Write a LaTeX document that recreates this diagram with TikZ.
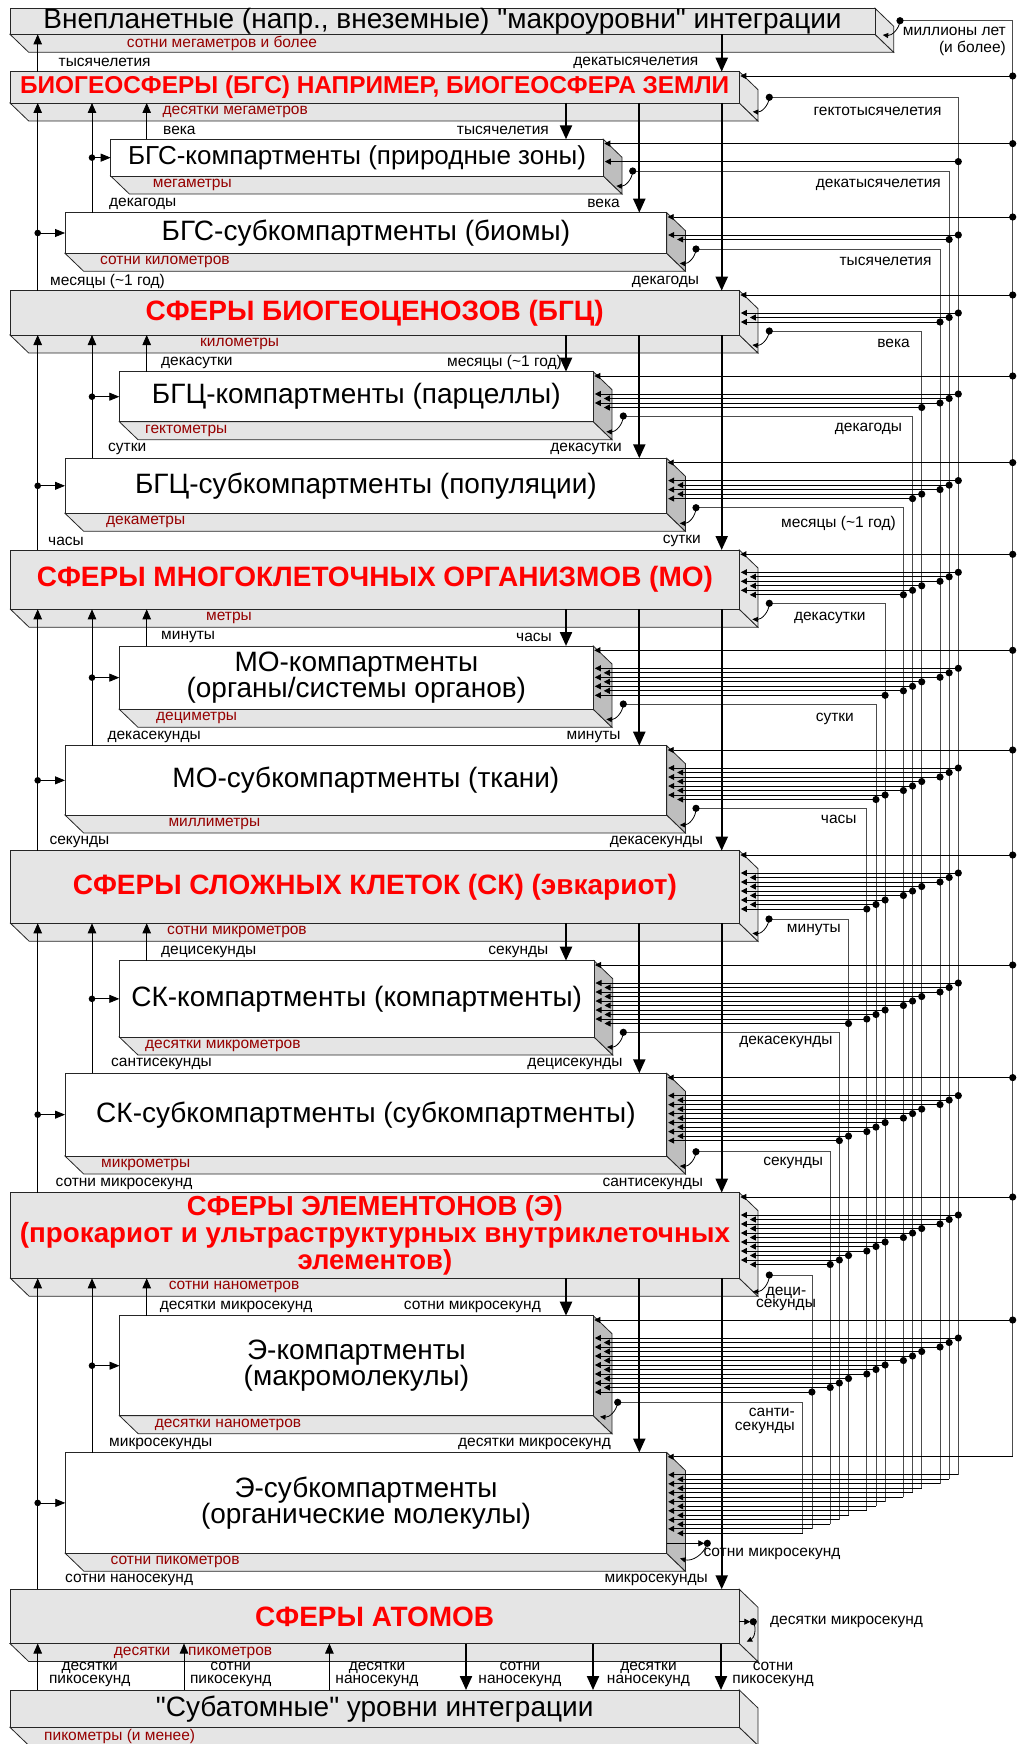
\documentclass[tikz,border=0pt]{standalone}
\usepackage{fontspec}
\setmainfont{Liberation Sans}
\newfontfamily\qfont{Liberation Sans}[Ligatures=TeXOff]
\newcommand{\sq}{{\qfont"}}
\usepackage{graphicx}
\usetikzlibrary{arrows.meta,calc}
\definecolor{boxgray}{RGB}{229,229,229}
\definecolor{sidegray}{RGB}{190,190,190}
\definecolor{dred}{RGB}{150,0,0}
\definecolor{lred}{RGB}{255,0,0}
\tikzset{
  edge/.style={draw=black!85,line width=0.8pt},
  lbl/.style={font=\fontsize{15.5}{13}\selectfont,inner sep=0pt},
  rlbl/.style={lbl,text=dred},
  big/.style={font=\fontsize{28}{26.5}\selectfont},
  redbold/.style={font=\fontsize{28}{26}\selectfont\bfseries,text=lred},
  redthree/.style={font=\fontsize{27.5}{23.5}\selectfont\bfseries,text=lred},
  bus/.style={draw=black!70,line width=0.8pt},
  inp/.style={draw=black,line width=0.8pt,-{Triangle[length=6pt,width=6pt]}},
  loopar/.style={draw=black,line width=0.8pt,-{Triangle[length=5.5pt,width=5pt]}},
  upar/.style={draw=black,line width=0.8pt,-{Triangle[length=10pt,width=8.5pt]}},
  hinar/.style={draw=black,line width=0.8pt,-{Triangle[length=10pt,width=8pt]}},
  downar/.style={draw=black,line width=2.2pt,-{Triangle[length=14pt,width=12pt]}},
}
% #1 name, #2 L, #3 T, #4 R, #5 B, #6 front fill, #7 side fill, #8 text style, #9 text
\newcommand{\slab}[9]{%
  \filldraw[edge,fill=boxgray] (#2,#5) -- (#2+18.7,#5+18) -- (#4+18.7,#5+18) -- (#4,#5) -- cycle;
  \filldraw[edge,fill=#7] (#4,#3) -- (#4+18.7,#3+18) -- (#4+18.7,#5+18) -- (#4,#5) -- cycle;
  \node[edge,fill=#6,inner sep=0pt,outer sep=0pt,anchor=north west,
        minimum width={(#4-#2)*1pt},minimum height={(#5-#3)*1pt},align=center,#8] (#1) at (#2,#3) {#9};
}
\def\Tarr{{8.3,71.7,139.3,212.7,290.7,371.7,458.3,550,646,745.7,850.7,960.7,1073.3,1192.7,1315.7,1452.5,1589.3,1690}}
\def\Rarr{{875,739.3,603.3,666.7,739.3,593.3,666.7,739.3,593.3,666.7,739.3,594,666.7,739.3,593.3,666.7,739.3,739.3}}
\def\Xarr{{1012.7,958.3,949.15,940,921.7,912.55,903.4,885.1,875.95,866.8,848.5,839.35,830.2,811.9,802.75}}
\def\DXarr{{900,769.3,632.7,696,769.3,623.3,696,769.3,623.3,696,769,623.3,696,769.3,617.7}}
\def\DYarr{{20.7,97.3,171,249,331,416,507.7,603.3,704,808.3,919,1032.3,1151.7,1275,1402.3}}
\def\TXarr{{882.7,752.7,616.3,679.7,752.3,606.3,679.7,752.3,606.3,679.7,752.3,607,679.7,752.7,600}}
\def\TYarr{{35,111.7,186,263.3,345,431.7,523.3,619.3,719.3,825,933.3,1047,1166,1291.7,1416.7}}
\begin{document}
\begin{tikzpicture}[x=1pt,y=-1pt]
\useasboundingbox (0,0) rectangle (1019,1744);
% ---------- boxes ----------
\slab{b0}{10}{8.3}{875}{34.3}{boxgray}{boxgray}{big}{Внепланетные (напр., внеземные) \sq макроуровни\sq\ интеграции}
\slab{b1}{10}{71.7}{739.3}{103}{boxgray}{boxgray}{redbold}{\resizebox{709pt}{!}{БИОГЕОСФЕРЫ (БГС) НАПРИМЕР, БИОГЕОСФЕРА ЗЕМЛИ}}
\slab{b2}{110.7}{139.3}{603.3}{176}{white}{sidegray}{big}{\resizebox{458pt}{!}{БГС-компартменты (природные зоны)}}
\slab{b3}{65}{212.7}{666.7}{253.3}{white}{sidegray}{big}{БГС-субкомпартменты (биомы)}
\slab{b4}{10}{290.7}{739.3}{335}{boxgray}{boxgray}{redbold}{СФЕРЫ БИОГЕОЦЕНОЗОВ (БГЦ)}
\slab{b5}{119.3}{371.7}{593.3}{421.7}{white}{sidegray}{big}{БГЦ-компартменты (парцеллы)}
\slab{b6}{65}{458.3}{666.7}{513.3}{white}{sidegray}{big}{БГЦ-субкомпартменты (популяции)}
\slab{b7}{10.5}{550}{739.3}{609.3}{boxgray}{boxgray}{redbold}{СФЕРЫ МНОГОКЛЕТОЧНЫХ ОРГАНИЗМОВ (МО)}
\slab{b8}{119.3}{646}{593.3}{709.3}{white}{sidegray}{big}{МО-компартменты\\(органы/системы органов)}
\slab{b9}{65}{745.7}{666.7}{815}{white}{sidegray}{big}{МО-субкомпартменты (ткани)}
\slab{b10}{10.5}{850.7}{739.3}{923.3}{boxgray}{boxgray}{redbold}{СФЕРЫ СЛОЖНЫХ КЛЕТОК (СК) (эвкариот)}
\slab{b11}{119.3}{960.7}{594}{1037}{white}{sidegray}{big}{СК-компартменты (компартменты)}
\slab{b12}{65}{1073.3}{666.7}{1156}{white}{sidegray}{big}{СК-субкомпартменты (субкомпартменты)}
\slab{b13}{10.5}{1192.7}{739.3}{1278.3}{boxgray}{boxgray}{redthree}{СФЕРЫ ЭЛЕМЕНТОНОВ (Э)\\\resizebox{710pt}{!}{(прокариот и ультраструктурных внутриклеточных}\\элементов)}
\slab{b14}{119.5}{1315.7}{593.3}{1415.7}{white}{sidegray}{big}{Э-компартменты\\(макромолекулы)}
\slab{b15}{65.3}{1452.5}{666.7}{1553.3}{white}{sidegray}{big}{Э-субкомпартменты\\(органические молекулы)}
\slab{b16}{10}{1589.3}{739.3}{1643.5}{boxgray}{boxgray}{redbold}{СФЕРЫ АТОМОВ}
\slab{b17}{10}{1690}{739.3}{1727.3}{boxgray}{boxgray}{big}{\sq Субатомные\sq\ уровни интеграции}
% ---------- base labels ----------
\foreach \px/\py/\txt [count=\i] in {126.7/43.3/{сотни мегаметров и более},162.4/112/{десятки мегаметров},152.7/185/{мегаметры},100/262.3/{сотни километров},200/344/{километры},145/430.7/{гектометры},106/522.3/{декаметры},206/618.3/{метры},156/718.3/{дециметры},168.3/824/{миллиметры},167/932.3/{сотни микрометров},145/1046/{десятки микрометров},101/1165/{микрометры},168.6/1287.3/{сотни нанометров},154.6/1424.7/{десятки нанометров},110.5/1562.3/{сотни пикометров},113.7/1652.5/{десятки},188/1652.5/{пикометров},44/1736.3/{пикометры (и менее)}}
  {\node[rlbl,anchor=west] (bl\i) at (\px,\py) {\txt};}
% ---------- time labels over boxes ----------
\foreach \px/\py/\txt [count=\i] in {58.5/62.7/{тысячелетия},163/130.3/{века},109/203.7/{декагоды},50/281.7/{месяцы (\textasciitilde 1 год)},161/362.7/{декасутки},108/449.3/{сутки},48/541/{часы},161/637/{минуты},107.3/736.7/{декасекунды},49.3/841.7/{секунды},161/951.7/{децисекунды},111/1064.3/{сантисекунды},55.4/1183.7/{сотни микросекунд},159.6/1306.7/{десятки микросекунд},109/1443.5/{микросекунды},65/1580.3/{сотни наносекунд}}
  {\node[lbl,anchor=west] (tl\i) at (\px,\py) {\txt};}
\foreach \px/\py/\txt [count=\i] in {698.5/62.7/{декатысячелетия},549/130.3/{тысячелетия},620/203.7/{века},699.3/281.7/{декагоды},562/362.7/{месяцы (\textasciitilde 1 год)},622/449.3/{декасутки},701/541/{сутки},552/637/{часы},620.7/736.7/{минуты},703.3/841.7/{декасекунды},548.5/951.7/{секунды},622.7/1064.3/{децисекунды},703.3/1183.7/{сантисекунды},541/1306.7/{сотни микросекунд},611/1443.5/{десятки микросекунд},708/1580.3/{микросекунды}}
  {\node[lbl,anchor=east] (tr\i) at (\px,\py) {\txt};}
% ---------- bus labels ----------
\node[lbl,anchor=east,align=right,font=\fontsize{15.5}{16.7}\selectfont] (rl0) at (1006,41.7) {миллионы лет\\(и более)};
\foreach \px/\py/\txt [count=\i] in {941.7/111.7/{гектотысячелетия},941/185/{декатысячелетия},931.7/261/{тысячелетия},910/343.3/{века},902.3/429/{декагоды},896/523.3/{месяцы (\textasciitilde 1 год)},865.7/618.3/{декасутки},854/719.3/{сутки},856.7/819.3/{часы},841/930/{минуты},832.7/1042.3/{декасекунды},823.3/1163.3/{секунды}}
  {\node[lbl,anchor=east] (rl\i) at (\px,\py) {\txt};}
\node[lbl,align=center,font=\fontsize{15.5}{12.5}\selectfont] (rl13) at (786,1298.8) {деци-\\секунды};
\node[lbl,anchor=east,align=right,font=\fontsize{15.5}{14}\selectfont] (rl14) at (795,1421.3) {санти-\\секунды};
\node[lbl,anchor=west] (rl15) at (703.3,1554.3) {сотни микросекунд};
\node[lbl,anchor=west] (rl16) at (770,1621.7) {десятки микросекунд};
% bottom two-line labels
\foreach \px/\ta/\tb [count=\i] in {89.7/десятки/пикосекунд,230.7/сотни/пикосекунд,377/десятки/наносекунд,520/сотни/наносекунд,648.5/десятки/наносекунд,773/сотни/пикосекунд}
  {\node[lbl,align=center,font=\fontsize{15.5}{12.7}\selectfont] (bt\i) at (\px,1674.7) {\ta\\\tb};}
% ---------- right-side buses ----------
\foreach \k in {0,...,14}{
  \pgfmathsetmacro\busX{\Xarr[\k]}
  \pgfmathsetmacro\pX{\DXarr[\k]}
  \pgfmathsetmacro\pY{\DYarr[\k]}
  \pgfmathsetmacro\tipX{\TXarr[\k]}
  \pgfmathsetmacro\tipY{\TYarr[\k]}
  \pgfmathsetmacro\yEnd{\k==0 ? 1456.8 : 1474.8+4.5*(\k-1)}
  \draw[bus] (\pX,\pY) -- (\busX,\pY) -- (\busX,\yEnd);
  \draw[loopar] (\pX,\pY) to[bend left=45] (\tipX,\tipY);
  \fill (\pX,\pY) circle[radius=3.6pt];
}
\foreach \n in {1,...,15}{
  \pgfmathsetmacro\rightX{\Rarr[\n]}
  \pgfmathsetmacro\topY{\Tarr[\n]}
  \pgfmathsetmacro\yy{\topY+4.3}
  \draw[inp] (1012.7,\yy) -- (\rightX+1,\yy);
  \ifnum\n<15 \fill (1012.7,\yy) circle[radius=3.6pt]; \fi
  \pgfmathtruncatemacro\mm{\n-1}
  \ifnum\mm>0
    \foreach \k in {1,...,\mm}{
      \pgfmathsetmacro\busX{\Xarr[\k]}
      \pgfmathsetmacro\yk{\topY+22.3+4.5*(\k-1)}
      \pgfmathsetmacro\tipk{\rightX+(mod(\k,2)==1 ? 1.5 : 10.5)}
      \draw[inp] (\busX,\yk) -- (\tipk,\yk);
      \ifnum\n<15 \fill (\busX,\yk) circle[radius=3.6pt]; \fi
    }
  \fi
}
% self loops of the two lowest boxes
\coordinate (s15) at (707.3,1543.3);
\draw[inp] (b15.east |- s15) -- ([xshift=-3pt]s15);
\fill (s15) circle[radius=3.6pt];
\draw[loopar] (s15) to[bend left=45] (680,1558.3);
\coordinate (s16) at (753.3,1621.7);
\draw[inp] (b16.east |- s16) -- ([xshift=-3pt]s16);
\fill (s16) circle[radius=3.6pt];
\draw[loopar] (s16) to[bend left=45] (746.7,1641.7);
% ---------- vertical connectors ----------
\coordinate (cU1) at (37.7,0);
\coordinate (cU2) at (92,0);
\coordinate (cU3) at (146.7,0);
\coordinate (cD1) at (566,0);
\coordinate (cD2) at (639.3,0);
\coordinate (cD3) at (721.7,0);
\draw[upar] (b1.north -| cU1) -- (b0.south -| cU1);
\draw[downar] (b0.south -| cD3) -- (b1.north -| cD3);
\foreach \Gi/\Ci/\Si/\Hi in {1/2/3/4,4/5/6/7,7/8/9/10,10/11/12/13,13/14/15/16}{
  \draw[upar] (b\Ci.north -| cU3) -- (b\Gi.south -| cU3);
  \draw[upar] (b\Si.north -| cU2) -- (b\Gi.south -| cU2);
  \fill (b\Ci.west -| cU2) circle[radius=3.3pt];
  \draw[hinar] (b\Ci.west -| cU2) -- (b\Ci.west);
  \draw[upar] (b\Hi.north -| cU1) -- (b\Gi.south -| cU1);
  \fill (b\Si.west -| cU1) circle[radius=3.3pt];
  \draw[hinar] (b\Si.west -| cU1) -- (b\Si.west);
  \draw[downar] (b\Gi.south -| cD1) -- (b\Ci.north -| cD1);
  \draw[downar] (b\Gi.south -| cD2) -- (b\Si.north -| cD2);
  \draw[downar] (b\Gi.south -| cD3) -- (b\Hi.north -| cD3);
}
\foreach \px [count=\i] in {37.7,184,329.4}{
  \coordinate (au\i) at (\px,0);
  \draw[upar] (b17.north -| au\i) -- (b16.south -| au\i);
}
\foreach \px [count=\i] in {466,593,721}{
  \coordinate (ad\i) at (\px,0);
  \draw[downar] (b16.south -| ad\i) -- (b17.north -| ad\i);
}
\end{tikzpicture}
\end{document}
